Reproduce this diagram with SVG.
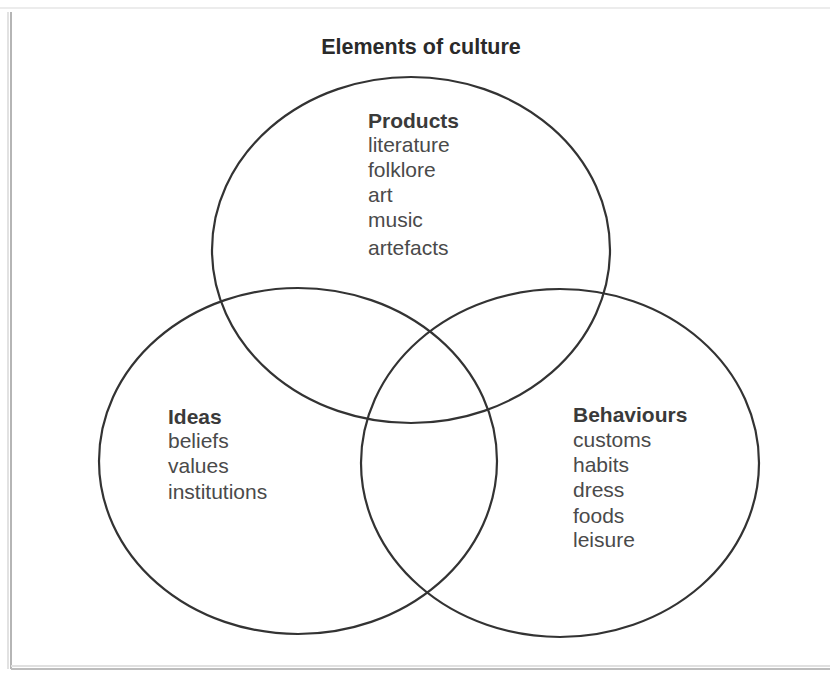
<svg xmlns="http://www.w3.org/2000/svg" width="830" height="673" viewBox="0 0 830 673">
<style>
.ring{fill:none;stroke:#333;stroke-width:2.2}
.t{font-family:"Liberation Sans",Arial,sans-serif;font-size:21px;fill:#4a4a4a}
.h{font-weight:bold;fill:#3a3a3a}
.title{font-family:"Liberation Sans",Arial,sans-serif;font-size:21.5px;font-weight:bold;fill:#2a2a2a}
</style>
<rect x="0" y="0" width="830" height="673" fill="#ffffff"/>
<g id="frame">
<line x1="0" y1="8" x2="830" y2="8" stroke="#ececec" stroke-width="2"/>
<line x1="8" y1="12" x2="8" y2="669" stroke="#e2e2e2" stroke-width="2"/>
<line x1="11" y1="12" x2="11" y2="669" stroke="#b5b5b5" stroke-width="2"/>
<line x1="11" y1="666" x2="830" y2="666" stroke="#e0e0e0" stroke-width="2"/>
<line x1="11" y1="669" x2="830" y2="669" stroke="#bdbdbd" stroke-width="2"/>
</g>
<g id="title">
<text class="title" x="421" y="54" text-anchor="middle">Elements of culture</text>
</g>
<g id="connectors"></g>
<g id="products">
<ellipse class="ring" cx="411" cy="250" rx="199" ry="173"/>
<text class="t h" x="368" y="128">Products</text>
<text class="t" x="368" y="152">literature</text>
<text class="t" x="368" y="177">folklore</text>
<text class="t" x="368" y="202">art</text>
<text class="t" x="368" y="227">music</text>
<text class="t" x="368" y="255">artefacts</text>
</g>
<g id="ideas">
<ellipse class="ring" cx="298" cy="461" rx="199" ry="173"/>
<text class="t h" x="168" y="424">Ideas</text>
<text class="t" x="168" y="448">beliefs</text>
<text class="t" x="168" y="473">values</text>
<text class="t" x="168" y="499">institutions</text>
</g>
<g id="behaviours">
<ellipse class="ring" cx="560" cy="463" rx="199" ry="174"/>
<text class="t h" x="573" y="422">Behaviours</text>
<text class="t" x="573" y="447">customs</text>
<text class="t" x="573" y="472">habits</text>
<text class="t" x="573" y="497">dress</text>
<text class="t" x="573" y="523">foods</text>
<text class="t" x="573" y="547">leisure</text>
</g>
</svg>
